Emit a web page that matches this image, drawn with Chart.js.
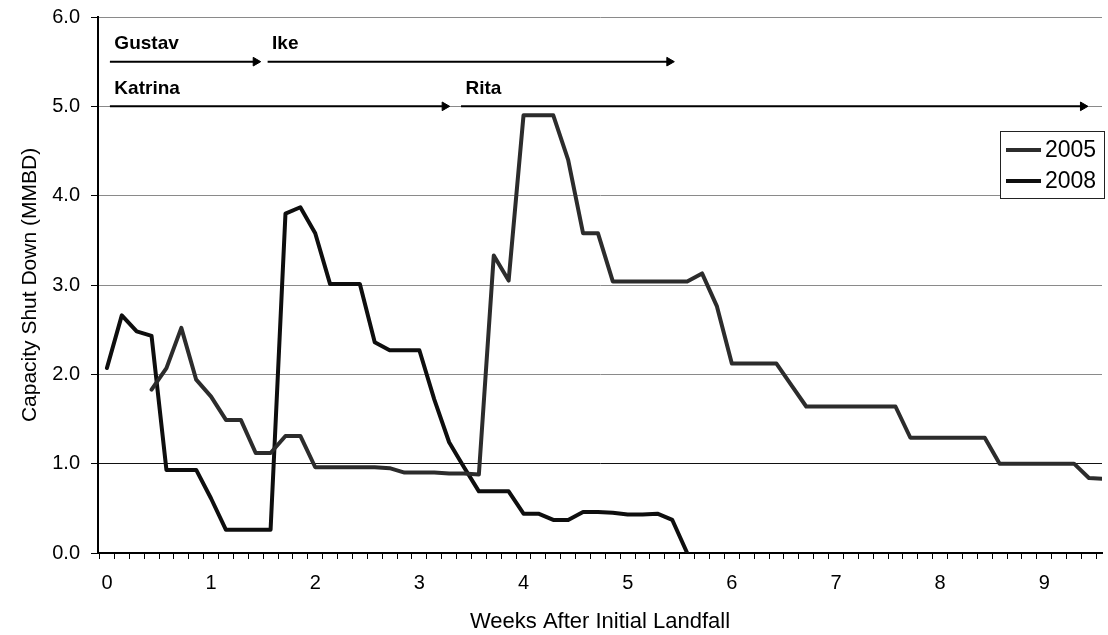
<!DOCTYPE html>
<html>
<head>
<meta charset="utf-8">
<script src="https://cdn.jsdelivr.net/npm/chart.js@4.4.1/dist/chart.umd.min.js"></script>
<style>
  html, body { margin: 0; padding: 0; background: #fff; overflow: hidden; }
  canvas { display: block; }
</style>
</head>
<body>
<canvas id="c" width="1108" height="635"></canvas>
<script>
// ---- data (days after initial landfall; 7 days = 1 week) ----
const days = Array.from({length: 68}, (_, i) => i);
const seriesNames = ['2005', '2008'];
const values2005 = [
  null, null, null, 1.83, 2.07, 2.52, 1.94, 1.75, 1.49, 1.49,
  1.12, 1.12, 1.31, 1.31, 0.96, 0.96, 0.96, 0.96, 0.96, 0.95,
  0.90, 0.90, 0.90, 0.89, 0.89, 0.88, 3.33, 3.05, 4.90, 4.90,
  4.90, 4.40, 3.58, 3.58, 3.04, 3.04, 3.04, 3.04, 3.04, 3.04,
  3.13, 2.76, 2.12, 2.12, 2.12, 2.12, 1.88, 1.64, 1.64, 1.64,
  1.64, 1.64, 1.64, 1.64, 1.29, 1.29, 1.29, 1.29, 1.29, 1.29,
  1.00, 1.00, 1.00, 1.00, 1.00, 1.00, 0.84, 0.83
];
const values2008 = [
  2.07, 2.66, 2.48, 2.43, 0.93, 0.93, 0.93, 0.61, 0.26, 0.26,
  0.26, 0.26, 3.80, 3.87, 3.58, 3.01, 3.01, 3.01, 2.36, 2.27,
  2.27, 2.27, 1.72, 1.24, 0.96, 0.69, 0.69, 0.69, 0.44, 0.44,
  0.37, 0.37, 0.46, 0.46, 0.45, 0.43, 0.43, 0.44, 0.37, 0.00
];
const yTickValues = [0, 1, 2, 3, 4, 5, 6];

// hurricane timelines (arrows) and their labels
const eventNames  = ['Gustav', 'Ike', 'Katrina', 'Rita'];
const eventStart  = [0.2, 10.8, 0.2, 23.8];
const eventEnd    = [10.0, 37.8, 22.7, 65.6];
const eventLevel  = [5.5, 5.5, 5.0, 5.0];
const labelDay    = [0.5, 11.1, 0.5, 24.1];
const labelLevel  = [5.7, 5.7, 5.2, 5.2];

// ---- chart ----
const FONT = '"Liberation Sans", Arial, Helvetica, sans-serif';
const xMin = -0.6, xMax = 66.88;
const halfDayPx = 1010 / (xMax - xMin) / 2;

const seriesColors = ['#2c2c2c', '#0e0e0e'];
const seriesData = [values2005, values2008];

const datasets = seriesNames.map((name, k) => ({
  label: name,
  data: seriesData[k].map((v, i) => ({x: days[i], y: v})),
  borderColor: seriesColors[k],
  backgroundColor: seriesColors[k],
  borderWidth: 4,
  pointRadius: 0,
  tension: 0,
  spanGaps: false,
  borderJoinStyle: 'round',
  borderCapStyle: 'round',
  isSeries: true
}));

eventNames.forEach((n, i) => {
  datasets.push({
    label: n + ' arrow',
    data: [{x: eventStart[i], y: eventLevel[i]}, {x: eventEnd[i], y: eventLevel[i]}],
    borderColor: '#000',
    backgroundColor: '#000',
    borderWidth: 2,
    pointRadius: [0, 5],
    pointStyle: 'triangle',
    pointRotation: 90,
    pointBackgroundColor: '#000',
    pointBorderColor: '#000',
    pointBorderWidth: 1,
    tension: 0,
    isSeries: false
  });
});

const overlay = {
  id: 'overlay',
  afterDatasetsDraw(chart) {
    const {ctx, scales: {x, y}} = chart;
    ctx.save();
    // event labels
    ctx.fillStyle = '#000';
    ctx.font = 'bold 19px ' + FONT;
    ctx.textBaseline = 'middle';
    ctx.textAlign = 'left';
    eventNames.forEach((n, i) => {
      ctx.fillText(n, x.getPixelForValue(labelDay[i]), y.getPixelForValue(labelLevel[i]));
    });
    // legend box
    const bx = 1000, by = 131, bw = 104, bh = 67;
    ctx.fillStyle = '#fff';
    ctx.fillRect(bx, by, bw, bh);
    ctx.strokeStyle = '#222';
    ctx.lineWidth = 1;
    ctx.strokeRect(bx + 0.5, by + 0.5, bw, bh);
    const series = chart.data.datasets.filter(d => d.isSeries);
    series.forEach((d, i) => {
      const cy = by + 19 + i * 31;
      ctx.strokeStyle = d.borderColor;
      ctx.lineWidth = 4;
      ctx.beginPath();
      ctx.moveTo(bx + 6, cy);
      ctx.lineTo(bx + 41, cy);
      ctx.stroke();
      ctx.fillStyle = '#000';
      ctx.font = '23px ' + FONT;
      ctx.fillText(d.label, bx + 45, cy + 1);
    });
    ctx.restore();
  }
};

new Chart(document.getElementById('c'), {
  type: 'line',
  data: { datasets },
  options: {
    responsive: false,
    devicePixelRatio: 1,
    animation: false,
    layout: { padding: { top: 17, right: 0, bottom: 0, left: 0 } },
    plugins: { legend: { display: false }, tooltip: { enabled: false } },
    scales: {
      x: {
        type: 'linear',
        min: xMin,
        max: xMax,
        afterBuildTicks: s => { s.ticks = days.map(d => ({value: d - 0.5})); },
        afterFit: s => { s.height = 82; s.paddingLeft = 0; s.paddingRight = 0; },
        ticks: {
          autoSkip: false,
          maxRotation: 0,
          minRotation: 0,
          labelOffset: halfDayPx,
          padding: 12,
          color: '#000',
          font: { family: FONT, size: 20 },
          callback: v => {
            const d = Math.round(v + 0.5);
            return d % 7 === 0 ? String(d / 7) : '';
          }
        },
        grid: { drawOnChartArea: false, drawTicks: true, tickLength: 6, tickColor: '#000', tickWidth: 1 },
        border: { display: true, color: '#000', width: 2 },
        title: {
          display: true,
          text: 'Weeks After Initial Landfall',
          color: '#000',
          font: { family: FONT, size: 22 },
          padding: { top: 0, bottom: 0 }
        }
      },
      y: {
        min: 0,
        max: 6,
        afterBuildTicks: s => { s.ticks = yTickValues.map(v => ({value: v})); },
        afterFit: s => { s.width = 98; s.paddingTop = 0; s.paddingBottom = 0; },
        ticks: {
          padding: 11,
          color: '#000',
          font: { family: FONT, size: 20 },
          callback: v => Number(v).toFixed(1)
        },
        grid: {
          color: ctx => (ctx.tick && ctx.tick.value === 1 ? '#111' : '#8a8a8a'),
          lineWidth: 1,
          drawTicks: true,
          tickLength: 7,
          tickColor: '#000'
        },
        border: { display: true, color: '#000', width: 2 },
        title: {
          display: true,
          text: 'Capacity Shut Down (MMBD)',
          color: '#000',
          font: { family: FONT, size: 21 },
          padding: { top: 18, bottom: 0 }
        }
      }
    }
  },
  plugins: [overlay]
});
</script>
</body>
</html>
